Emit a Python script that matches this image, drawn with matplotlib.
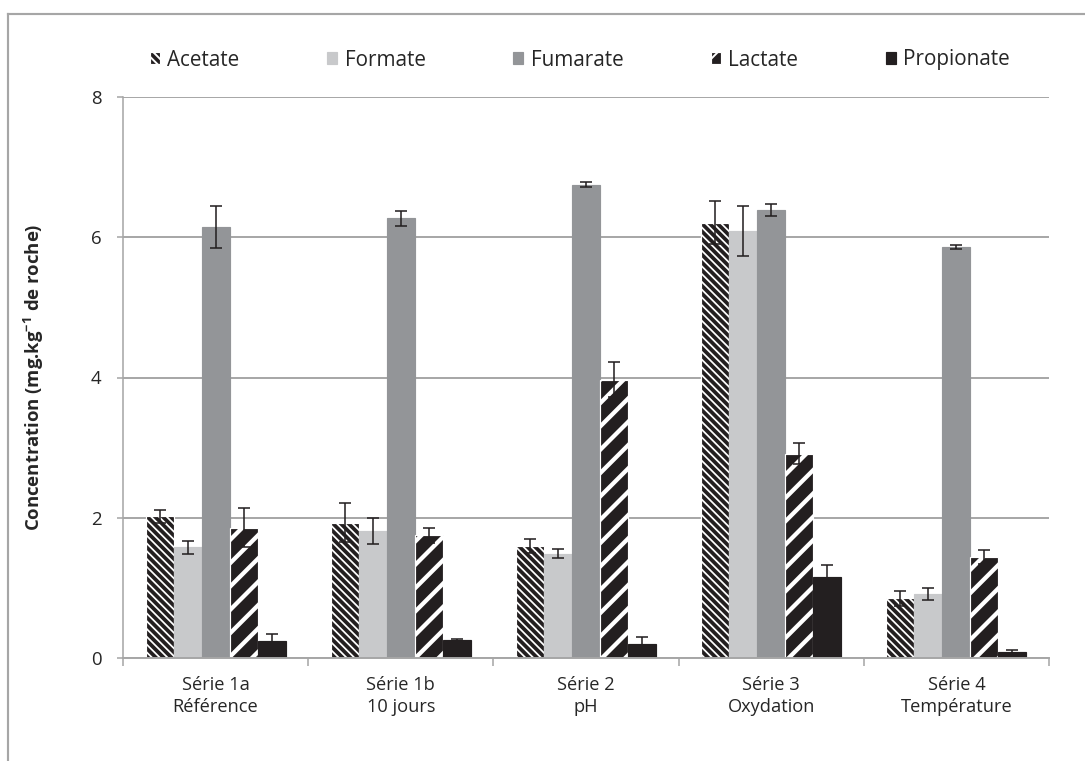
import numpy as np
import matplotlib
matplotlib.use('Agg')
import matplotlib.pyplot as plt
from matplotlib.lines import Line2D

plt.rcParams['font.family'] = ['Open Sans', 'DejaVu Sans']
plt.rcParams['mathtext.fontset'] = 'custom'
plt.rcParams['mathtext.rm'] = 'Open Sans'
plt.rcParams['mathtext.bf'] = 'Open Sans:bold'

# data
groups = ['Série 1a\nRéférence', 'Série 1b\n10 jours', 'Série 2\npH',
          'Série 3\nOxydation', 'Série 4\nTempérature']
acids = ['Acetate', 'Formate', 'Fumarate', 'Lactate', 'Propionate']

acetate = [2.02, 1.93, 1.60, 6.21, 0.85]
acetate_err = [0.09, 0.28, 0.10, 0.31, 0.11]
formate = [1.58, 1.81, 1.49, 6.09, 0.91]
formate_err = [0.09, 0.18, 0.06, 0.36, 0.09]
fumarate = [6.15, 6.27, 6.75, 6.39, 5.86]
fumarate_err = [0.30, 0.11, 0.04, 0.09, 0.03]
lactate = [1.86, 1.75, 3.97, 2.91, 1.44]
lactate_err = [0.28, 0.11, 0.25, 0.15, 0.10]
propionate = [0.24, 0.25, 0.20, 1.15, 0.08]
propionate_err = [0.10, 0.02, 0.10, 0.17, 0.03]

values = [acetate, formate, fumarate, lactate, propionate]
errors = [acetate_err, formate_err, fumarate_err, lactate_err, propionate_err]

# style per series: face, edge, hatch, hatch linewidth
bs = chr(92)
styles = [
    ('#231f20', 'white', bs * 6, 0.9),
    ('#c8c9cb', '#c8c9cb', None, None),
    ('#939598', '#939598', None, None),
    ('#231f20', 'white', '//', 2.2),
    ('#231f20', '#231f20', None, None),
]

DPI = 140
W, H = 1085, 761
fig = plt.figure(figsize=(W / DPI, H / DPI), dpi=DPI)
ax = fig.add_axes([123 / W, 1 - 658 / H, (1049 - 123) / W, (658 - 97) / H])

# outer chart frame (left and top edges visible)
frame_col = '#a6a6a6'
fig.add_artist(Line2D([8 / W, 8 / W], [0, 1 - 14 / H], color=frame_col, lw=1.1,
                      transform=fig.transFigure))
fig.add_artist(Line2D([8 / W, 1], [1 - 14 / H, 1 - 14 / H], color=frame_col, lw=1.1,
                      transform=fig.transFigure))

x = np.arange(len(groups))
bw = 28 / 185
for j, (name, vals, errs, st) in enumerate(zip(acids, values, errors, styles)):
    face, edge, hatch, hlw = st
    bars = ax.bar(x + (j - 2) * bw, vals, bw, color=face, edgecolor=edge,
                  linewidth=0.6, hatch=hatch, label=name, zorder=2)
    if hlw is not None:
        for b in bars:
            if hasattr(b, 'set_hatch_linewidth'):
                b.set_hatch_linewidth(hlw)
    ax.errorbar(x + (j - 2) * bw, vals, yerr=errs, fmt='none', ecolor='#231f20',
                elinewidth=0.8, capsize=3.2, capthick=0.8, zorder=3)

ax.set_xlim(-0.5, 4.5)
ax.set_ylim(0, 8)
ax.set_yticks([0, 2, 4, 6, 8])
ax.yaxis.grid(True, color='#a6a6a6', lw=1.0, zorder=0)
ax.set_axisbelow(True)

for s in ['top', 'right']:
    ax.spines[s].set_visible(False)
ax.spines['left'].set_color('#a6a6a6')
ax.spines['bottom'].set_color('#a6a6a6')
ax.spines['left'].set_linewidth(0.8)
ax.spines['bottom'].set_linewidth(1.0)

ax.set_xticks(np.arange(-0.5, 5, 1))
ax.set_xticklabels([])
ax.set_xticks(x, minor=True)
ax.set_xticklabels(groups, minor=True, fontsize=9.4, color='#262626', linespacing=1.35)
ax.tick_params(axis='x', which='major', length=4, color='#a6a6a6', width=0.8)
ax.tick_params(axis='x', which='minor', length=0, pad=9)
ax.tick_params(axis='y', length=3, color='#a6a6a6', width=0.8, labelsize=9.6,
               labelcolor='#262626', pad=8)

ax.set_ylabel(r'Concentration (mg.kg$^{\mathbf{-1}}$ de roche)', fontsize=9.5,
              fontweight='bold', color='#262626')
ax.yaxis.set_label_coords(-0.083, 0.5)

leg = fig.legend(loc='center', bbox_to_anchor=(580 / W, 1 - 60 / H), ncol=5,
                 frameon=False, fontsize=10.6, handlelength=0.5, handleheight=0.5,
                 handletextpad=0.35, columnspacing=4.25, labelcolor='#262626')

fig.savefig('out.png', dpi=DPI)
